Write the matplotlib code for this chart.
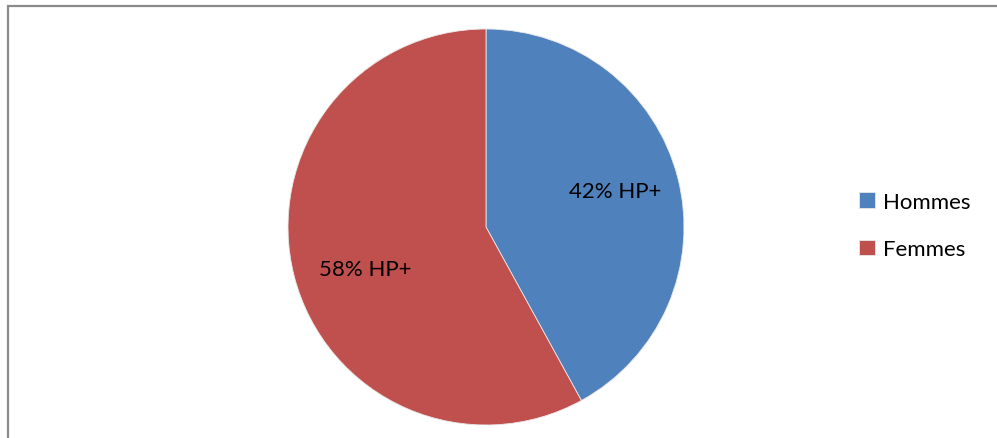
import matplotlib.pyplot as plt
from matplotlib.patches import Rectangle

labels = ['Hommes', 'Femmes']
shares = [42, 58]
colors = ['#4F81BD', '#C0504D']

W, H = 997, 439
fig = plt.figure(figsize=(W / 100, H / 100), dpi=100)
plt.rcParams['font.family'] = ['Lato', 'DejaVu Sans']

# chart frame (only top and left edges fall inside the image)
fig.patches.append(Rectangle((8 / W, -0.1), 1.2, (H - 7) / H + 0.1, transform=fig.transFigure,
                             fill=False, edgecolor='#8a8a8a', linewidth=1.6))

ax = fig.add_axes([288 / W, 13 / H, 396 / W, 396 / H])
wedges, texts, autotexts = ax.pie(shares, colors=colors, startangle=90, counterclock=False,
                                  autopct=lambda p: '%d%% HP+' % round(p), pctdistance=0.66,
                                  wedgeprops=dict(linewidth=0.6, edgecolor='#e8e8e8'),
                                  textprops=dict(fontsize=16, color='black'))
autotexts[0].set_position((0.65, 0.18))
autotexts[1].set_position((-0.61, -0.21))
ax.set_aspect('equal')
ax.set_xlim(-1, 1)
ax.set_ylim(-1, 1)

# legend
lg = fig.legend(wedges, labels, loc='center left', bbox_to_anchor=(839 / W, 1 - 226.5 / H),
                frameon=False, fontsize=16, handlelength=0.7, handleheight=0.7,
                handletextpad=0.4, labelspacing=1.25)

fig.savefig('out.png', dpi=100)
